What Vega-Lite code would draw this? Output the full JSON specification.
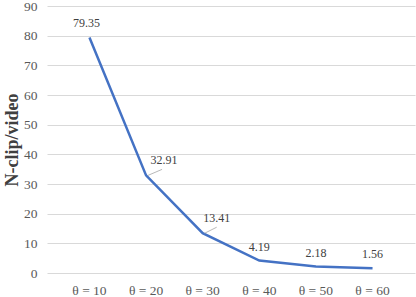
{
  "$schema": "https://vega.github.io/schema/vega-lite/v6.json",
  "width": 368,
  "height": 267,
  "autosize": {"type": "none"},
  "padding": {"left": 47, "top": 6, "right": 1, "bottom": 24},
  "background": "white",
  "config": {
    "view": {"stroke": null},
    "font": "Liberation Serif"
  },
  "data": {
    "values": [
      {"theta": "θ = 10", "value": 79.35},
      {"theta": "θ = 20", "value": 32.91},
      {"theta": "θ = 30", "value": 13.41},
      {"theta": "θ = 40", "value": 4.19},
      {"theta": "θ = 50", "value": 2.18},
      {"theta": "θ = 60", "value": 1.56}
    ]
  },
  "encoding": {
    "x": {
      "field": "theta",
      "type": "ordinal",
      "sort": null,
      "scale": {"padding": 0.5},
      "axis": {
        "title": null,
        "labelAngle": 0,
        "labelFont": "Liberation Serif",
        "labelFontSize": 13.5,
        "labelColor": "#595959",
        "labelPadding": 10,
        "ticks": false,
        "domain": false,
        "grid": false
      }
    },
    "y": {
      "field": "value",
      "type": "quantitative",
      "scale": {"domain": [0, 90], "nice": false},
      "axis": {
        "values": [0, 10, 20, 30, 40, 50, 60, 70, 80, 90],
        "title": "N-clip/video",
        "titleFont": "Liberation Serif",
        "titleFontSize": 18,
        "titleFontWeight": "bold",
        "titleColor": "#404040",
        "titlePadding": 2,
        "labelFont": "Liberation Serif",
        "labelFontSize": 13.5,
        "labelColor": "#595959",
        "labelPadding": 10,
        "ticks": false,
        "domain": false,
        "grid": true,
        "gridColor": "#d9d9d9",
        "gridWidth": 1
      }
    }
  },
  "layer": [
    {
      "mark": {"type": "line", "color": "#4472C4", "strokeWidth": 2.5}
    },
    {
      "transform": [{"filter": "datum.value == 32.91"}],
      "mark": {"type": "rule", "color": "#a6a6a6", "strokeWidth": 0.8, "x2Offset": 16, "y2Offset": -6, "xOffset": 2},
      "encoding": {"x2": {"field": "theta"}, "y2": {"field": "value"}}
    },
    {
      "transform": [{"filter": "datum.value == 13.41"}],
      "mark": {"type": "rule", "color": "#a6a6a6", "strokeWidth": 0.8, "x2Offset": 14, "y2Offset": -6, "xOffset": 2},
      "encoding": {"x2": {"field": "theta"}, "y2": {"field": "value"}}
    },
    {
      "transform": [{"filter": "datum.value == 79.35"}],
      "mark": {"type": "text", "font": "Liberation Serif", "fontSize": 12, "color": "#404040", "dx": -3, "dy": -15},
      "encoding": {"text": {"field": "value", "format": ".2f"}}
    },
    {
      "transform": [{"filter": "datum.value == 32.91"}],
      "mark": {"type": "text", "font": "Liberation Serif", "fontSize": 12, "color": "#404040", "dx": 18, "dy": -15},
      "encoding": {"text": {"field": "value", "format": ".2f"}}
    },
    {
      "transform": [{"filter": "datum.value == 13.41"}],
      "mark": {"type": "text", "font": "Liberation Serif", "fontSize": 12, "color": "#404040", "dx": 14, "dy": -15},
      "encoding": {"text": {"field": "value", "format": ".2f"}}
    },
    {
      "transform": [{"filter": "datum.value < 5"}],
      "mark": {"type": "text", "font": "Liberation Serif", "fontSize": 12, "color": "#404040", "dx": 0, "dy": -14},
      "encoding": {"text": {"field": "value", "format": ".2f"}}
    }
  ]
}
